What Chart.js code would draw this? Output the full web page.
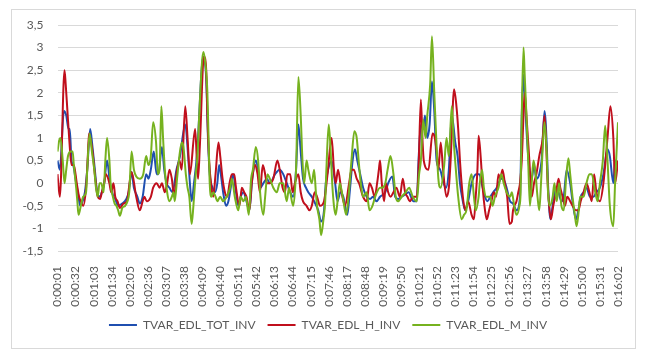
<!DOCTYPE html>
<html>
<head>
<meta charset="utf-8">
<script src="https://cdn.jsdelivr.net/npm/chart.js@4.4.0/dist/chart.umd.min.js"></script>
<style>
  html, body { margin: 0; padding: 0; background: #fff; }
  #frame { position: absolute; left: 11px; top: 9px; width: 623px; height: 338px; border: 1px solid #d9d9d9; }
  #wrap { position: absolute; left: 0; top: 0; width: 650px; height: 362px; }
</style>
</head>
<body>
<div id="frame"></div>
<div id="wrap"><canvas id="tvarChart" width="650" height="362"></canvas></div>
<script>
// time tick labels (h:mm:ss)
const tickLabels = ["0:00:01","0:00:32","0:01:03","0:01:34","0:02:05","0:02:36","0:03:07","0:03:38",
  "0:04:09","0:04:40","0:05:11","0:05:42","0:06:13","0:06:44","0:07:15","0:07:46","0:08:17","0:08:48",
  "0:09:19","0:09:50","0:10:21","0:10:52","0:11:23","0:11:54","0:12:25","0:12:56","0:13:27","0:13:58",
  "0:14:29","0:15:00","0:15:31","0:16:02"];

const seriesNames = ["TVAR_EDL_TOT_INV", "TVAR_EDL_H_INV", "TVAR_EDL_M_INV"];

// [second, value]
const totPts = [[1,0.5],[5,0.3],[12,1.6],[16,1.5],[20,1.2],[22,1.2],[25,0.5],[28,0.4],[33,0],[37,-0.3],[40,-0.5],[44,-0.4],[48,-0.2],[52,0.3],[57,1.2],[61,0.8],[65,0.3],[69,-0.2],[74,-0.3],[77,-0.2],[81,0],[86,0.5],[91,0],[97,-0.3],[100,-0.35],[105,-0.5],[112,-0.45],[119,-0.35],[123,-0.2],[128,0.25],[132,-0.1],[138,-0.3],[142,-0.45],[147,-0.3],[153,0.2],[157,0.1],[161,0.3],[166,0.7],[171,0.2],[174,0.2],[180,0.8],[184,0.3],[188,0],[193,-0.1],[198,-0.2],[205,0.3],[211,0.6],[220,1.3],[225,0.6],[228,0],[231,-0.4],[235,0],[240,0.6],[251,2.8],[256,2.3],[259,1.0],[262,0.2],[267,-0.1],[271,-0.2],[275,0],[278,0.4],[281,0.2],[285,-0.2],[290,-0.5],[294,-0.4],[298,-0.1],[302,0.2],[307,-0.2],[311,-0.5],[315,-0.3],[320,-0.2],[325,-0.4],[330,-0.6],[335,0.1],[341,0.5],[345,0.3],[349,-0.1],[354,0],[360,0.1],[365,0],[374,0.2],[382,0.3],[388,0.2],[394,0],[400,-0.2],[405,-0.3],[410,0.3],[414,1.3],[418,0.7],[422,0.1],[427,-0.1],[431,-0.2],[437,-0.3],[441,-0.4],[448,-0.6],[453,-0.85],[458,-0.6],[461,0],[465,0.3],[471,0.5],[477,0],[481,-0.4],[486,-0.2],[491,-0.3],[498,-0.7],[502,-0.2],[507,0.5],[511,0.75],[515,0.5],[520,0.2],[525,-0.1],[531,-0.3],[537,-0.35],[542,-0.3],[548,-0.4],[554,-0.3],[563,-0.2],[568,0],[575,0.15],[580,-0.3],[585,-0.35],[591,-0.3],[597,-0.25],[603,-0.2],[611,-0.4],[617,-0.4],[620,0.5],[624,1.3],[628,1.2],[631,1.5],[635,1.0],[639,1.3],[643,2.25],[647,1.6],[651,0.5],[657,0.3],[663,0],[667,-0.1],[672,0.3],[677,1.5],[683,0.9],[687,0.6],[691,0],[696,-0.4],[700,-0.6],[705,-0.4],[711,0],[719,0.2],[724,0.2],[730,-0.1],[734,-0.3],[738,-0.4],[743,-0.3],[748,-0.2],[754,-0.1],[762,0.1],[765,0.1],[771,-0.1],[777,-0.4],[782,-0.45],[788,-0.6],[794,-0.3],[797,1.5],[800,2.4],[802,2.0],[805,1.2],[810,0.3],[814,0.1],[818,0.4],[822,0.1],[827,0.2],[831,0.5],[836,1.6],[840,0.8],[842,0],[846,-0.8],[851,-0.4],[856,-0.1],[860,-0.2],[865,-0.4],[869,-0.3],[874,0.3],[880,0],[884,-0.4],[890,-0.8],[894,-0.6],[898,-0.3],[903,-0.2],[908,-0.1],[914,-0.3],[920,-0.3],[925,-0.2],[931,-0.1],[937,0.2],[944,0.75],[948,0.6],[954,0],[957,0.5],[962,0.4]];

const hPts = [[1,0.2],[5,-0.3],[13,2.5],[15,2.2],[18,1.6],[21,1.0],[25,0.4],[29,0.4],[34,0],[38,-0.3],[41,-0.4],[45,-0.5],[50,-0.1],[53,0.6],[55,1.1],[61,0.7],[65,0.2],[70,-0.3],[74,-0.35],[77,-0.2],[81,0],[84,0.2],[90,0],[93,-0.2],[97,0],[100,-0.3],[104,-0.4],[108,-0.55],[114,-0.45],[120,-0.4],[128,0.25],[136,-0.3],[142,-0.6],[147,-0.4],[150,-0.3],[154,-0.4],[161,-0.3],[165,-0.1],[171,0],[176,-0.1],[180,0],[185,-0.2],[189,0],[193,0.3],[197,0.1],[201,-0.3],[205,0.2],[210,0.5],[214,0.3],[220,1.7],[224,1.0],[228,0.2],[237,1.2],[240,0.5],[242,0.1],[245,0.8],[252,2.8],[256,2.5],[258,1.5],[261,0.5],[265,-0.1],[268,-0.3],[272,0.2],[277,0.9],[280,0.6],[284,0.1],[288,-0.2],[292,-0.3],[296,0],[300,0.2],[304,0.2],[307,-0.1],[313,-0.5],[317,-0.1],[321,-0.2],[325,-0.3],[330,-0.6],[334,0],[340,0.4],[344,0.2],[348,-0.2],[353,0.4],[357,0.2],[360,0],[365,0],[371,0.1],[378,0.5],[382,0.3],[387,-0.1],[391,-0.2],[395,0.2],[400,0.2],[404,-0.2],[408,0],[414,0.2],[418,-0.2],[422,-0.4],[428,-0.5],[433,-0.6],[437,-0.5],[442,-0.2],[446,-0.3],[451,-0.5],[458,-0.4],[464,0.2],[471,1.0],[475,0.3],[478,0],[482,0.3],[488,-0.2],[494,-0.5],[501,0],[505,0.3],[509,0.3],[514,0.1],[518,0],[525,-0.3],[531,-0.4],[536,0],[540,-0.1],[545,-0.3],[549,0],[552,0.3],[554,0.5],[557,0],[561,-0.4],[564,0],[568,-0.2],[572,-0.3],[577,-0.2],[582,-0.1],[588,-0.3],[593,0.1],[597,-0.2],[601,-0.3],[605,-0.4],[611,-0.3],[617,-0.3],[620,0.3],[624,1.85],[627,0.9],[629,0.5],[637,0.3],[644,1.1],[648,1.0],[651,0.7],[654,0.3],[658,0.9],[662,0.3],[668,-0.3],[672,-0.1],[675,0.5],[681,2.08],[685,1.7],[688,1.2],[691,0.5],[696,-0.3],[700,-0.6],[705,-0.4],[711,-0.7],[715,-0.8],[718,-0.3],[721,0.3],[723,1.05],[727,0.5],[730,-0.1],[734,-0.6],[737,-0.8],[741,-0.6],[745,-0.4],[749,-0.2],[753,-0.3],[757,0.2],[760,0.1],[764,0.3],[768,0],[772,-0.3],[776,-0.9],[780,-0.85],[782,-0.6],[788,-0.4],[791,-0.2],[794,0],[797,0.5],[800,1.5],[802,2.0],[805,1.5],[810,0.5],[814,-0.3],[818,0],[822,0.2],[827,0.6],[833,1.0],[836,1.5],[839,0.8],[841,0.1],[844,-0.5],[847,-0.8],[851,-0.5],[856,-0.2],[860,0.1],[863,-0.1],[867,-0.3],[871,-0.5],[875,-0.3],[880,-0.4],[884,-0.5],[890,-0.6],[894,-0.6],[898,-0.4],[903,-0.2],[908,0],[913,-0.2],[917,-0.4],[921,0.2],[925,-0.2],[931,-0.4],[937,0],[944,1.0],[949,1.7],[954,1.0],[957,0],[962,0.5]];

const mPts = [[1,0.7],[4,0.95],[6,1.0],[10,0.5],[13,0],[16,0.3],[19,0.6],[24,0.7],[27,0.7],[29,0.4],[33,-0.1],[35,-0.4],[37,-0.7],[41,-0.5],[45,-0.3],[50,-0.2],[52,0.3],[56,1.1],[60,0.7],[64,0.3],[67,-0.1],[70,-0.3],[73,0],[76,0],[80,-0.2],[83,0.5],[86,1.0],[90,0.5],[92,0],[96,-0.3],[99,-0.45],[102,-0.5],[105,-0.6],[108,-0.72],[112,-0.55],[117,-0.5],[121,-0.4],[124,-0.2],[128,0.7],[132,0.3],[136,0.15],[142,0.1],[148,0.2],[153,0.6],[157,0.4],[161,0.6],[165,1.35],[170,0.9],[173,0.2],[176,0.3],[179,1.7],[182,1.0],[185,0.3],[189,-0.2],[193,-0.4],[197,-0.3],[200,-0.2],[202,-0.4],[206,0.1],[210,0.6],[214,0.9],[217,0.8],[221,0.2],[224,-0.1],[227,-0.3],[231,-0.9],[234,-0.5],[238,0.2],[241,0.6],[244,1.5],[251,2.9],[254,2.7],[258,2.0],[260,1.0],[262,0],[265,-0.3],[268,-0.2],[272,-0.3],[275,-0.4],[280,-0.3],[285,-0.4],[291,-0.3],[297,-0.1],[300,0.1],[305,-0.3],[311,-0.6],[315,-0.3],[320,-0.4],[324,-0.3],[329,-0.7],[333,0.1],[336,0.3],[341,0.8],[345,0.5],[349,-0.3],[354,-0.7],[357,-0.3],[361,0.2],[365,0.1],[371,-0.1],[377,-0.2],[382,0],[388,0],[394,-0.4],[398,-0.1],[405,-0.5],[410,0.3],[414,2.35],[418,1.5],[421,0.5],[424,0],[428,0.5],[431,0.3],[437,0],[441,0.3],[444,-0.2],[446,-0.5],[450,-0.8],[453,-1.15],[457,-0.8],[460,-0.4],[462,0.3],[466,1.3],[469,0.8],[472,0],[475,-0.5],[478,-0.7],[482,-0.3],[485,0],[490,-0.3],[496,-0.7],[500,-0.3],[505,0.5],[510,1.15],[514,1.0],[518,0.4],[521,0],[525,-0.3],[531,-0.2],[536,-0.6],[541,-0.5],[547,-0.25],[554,-0.1],[557,-0.1],[563,0],[567,0.3],[572,0.6],[577,0.2],[581,-0.3],[585,-0.4],[591,-0.3],[598,-0.2],[604,-0.1],[610,-0.3],[617,-0.4],[621,0.2],[624,0.5],[628,1.4],[632,1.0],[635,1.5],[640,2.2],[643,3.25],[647,2.0],[650,1.1],[654,0.1],[658,-0.1],[664,0.4],[668,1.0],[672,0.6],[677,1.7],[680,1.0],[684,0.3],[688,-0.3],[694,-0.8],[698,-0.7],[702,-0.6],[707,0],[711,0.2],[715,-0.3],[718,-0.6],[723,-0.3],[725,0],[729,0.3],[732,-0.1],[736,-0.3],[743,-0.3],[747,-0.5],[751,-0.3],[757,-0.1],[762,0.2],[766,0],[771,-0.2],[777,-0.3],[780,-0.2],[784,-0.5],[788,-0.7],[793,-0.5],[795,-0.2],[797,1.5],[800,3.0],[802,2.4],[805,1.5],[808,0.5],[811,-0.5],[814,0],[817,0.5],[820,0.3],[824,-0.3],[827,-0.6],[830,0],[833,0.8],[836,1.35],[840,0.6],[842,-0.2],[845,-0.5],[850,-0.3],[853,0],[857,-0.4],[861,0],[865,-0.5],[869,-0.6],[873,0.1],[877,0.55],[880,0.2],[884,-0.3],[888,-0.7],[891,-0.95],[894,-0.7],[897,-0.3],[903,-0.3],[908,0],[913,0.2],[917,0.2],[923,-0.2],[927,-0.4],[931,0],[936,0.5],[940,1.27],[944,0.5],[948,-0.5],[954,-0.95],[957,0],[962,1.35]];

const colors = ["#1f4fb0", "#c00f1c", "#76b21f"];

function toSec(label) {
  const p = label.split(":").map(Number);
  return p[0] * 3600 + p[1] * 60 + p[2];
}
const tickSec = tickLabels.map(toSec);

function makeSet(name, pts, color, order) {
  return {
    label: name,
    data: pts.map((p) => ({ x: p[0], y: p[1] })),
    borderColor: color,
    backgroundColor: color,
    borderWidth: 2,
    pointRadius: 0,
    cubicInterpolationMode: "monotone",
    order: order,
  };
}

const font = { family: "Lato, 'Open Sans', sans-serif", size: 12 };

new Chart(document.getElementById("tvarChart").getContext("2d"), {
  type: "line",
  data: {
    datasets: [
      makeSet(seriesNames[0], totPts, colors[0], 3),
      makeSet(seriesNames[1], hPts, colors[1], 2),
      makeSet(seriesNames[2], mPts, colors[2], 1),
    ],
  },
  options: {
    responsive: false,
    animation: false,
    layout: { padding: { top: 25, left: 14, right: 8, bottom: 21 } },
    plugins: {
      tooltip: { enabled: false },
      legend: {
        position: "bottom",
        labels: {
          usePointStyle: true,
          pointStyle: "line",
          pointStyleWidth: 28,
          padding: 12,
          color: "#595959",
          font: font,
          sort: (a, b) => a.datasetIndex - b.datasetIndex,
        },
      },
    },
    scales: {
      x: {
        type: "linear",
        min: tickSec[0],
        max: tickSec[tickSec.length - 1],
        afterBuildTicks: (scale) => {
          scale.ticks = tickSec.map((v) => ({ value: v }));
        },
        afterFit: (scale) => { scale.height = 56; },
        grid: { display: false },
        border: { display: false },
        ticks: {
          autoSkip: false,
          maxRotation: 90,
          minRotation: 90,
          padding: 7,
          color: "#595959",
          font: font,
          callback: (v) => tickLabels[tickSec.indexOf(v)],
        },
      },
      y: {
        min: -1.5,
        max: 3.5,
        afterFit: (scale) => { scale.width = 43.5; },
        grid: { color: "#d9d9d9", drawTicks: false },
        border: { display: false },
        ticks: {
          stepSize: 0.5,
          padding: 14,
          color: "#595959",
          font: font,
          callback: (v) => String(Math.round(v * 10) / 10).replace(".", ","),
        },
      },
      yRight: {
        position: "right",
        display: true,
        grid: { display: false },
        border: { display: false },
        ticks: { display: false },
        afterFit: (scale) => { scale.width = 24; },
      },
    },
  },
});
</script>
</body>
</html>
